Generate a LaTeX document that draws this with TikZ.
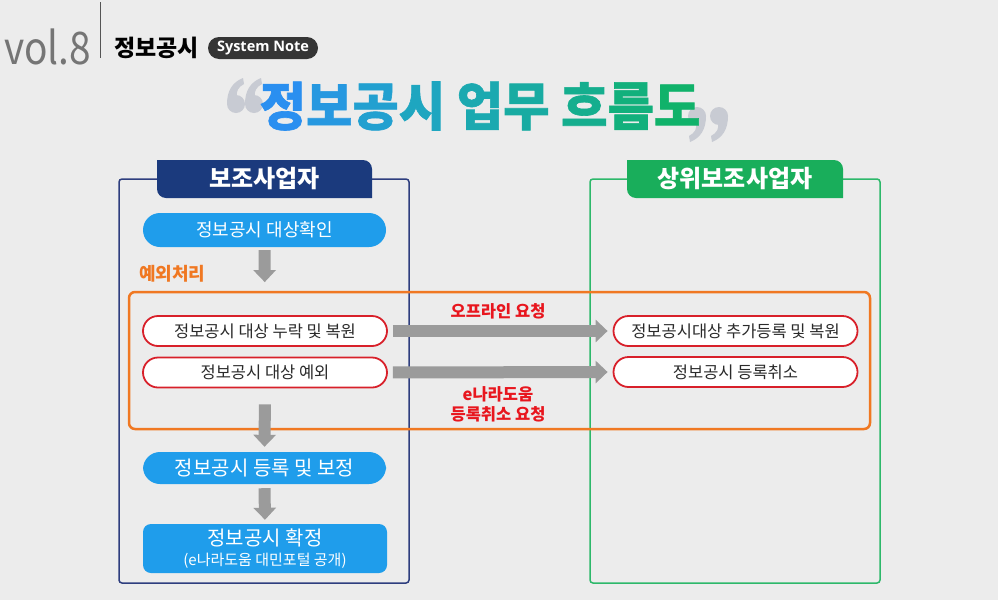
\documentclass[tikz,border=0pt]{standalone}
\usepackage{fontspec}
\setmainfont{Noto Sans CJK KR}
\newfontfamily\titlefont[FakeBold=1.2]{Noto Sans CJK KR}
\newfontfamily\osfont{Open Sans}
\usetikzlibrary{arrows.meta}
\definecolor{bgc}{HTML}{ECECEC}
\definecolor{navy}{HTML}{1B3A7D}
\definecolor{navyline}{HTML}{2E3E7E}
\definecolor{grn}{HTML}{19AE5B}
\definecolor{grnline}{HTML}{2DB86A}
\definecolor{pillblue}{HTML}{1F9DEB}
\definecolor{orng}{HTML}{F07822}
\definecolor{redline}{HTML}{D8202A}
\definecolor{redtxt}{HTML}{E8161E}
\definecolor{arrgray}{HTML}{9B9B9B}
\definecolor{qgray}{HTML}{C8CBD3}
\definecolor{txtdark}{HTML}{2A2A2A}
\tikzset{
  bluepill/.style={fill=pillblue, rounded corners=17pt, text=white, minimum width=243pt, inner sep=0pt},
  redpill/.style={fill=white, draw=redline, line width=1.8pt, rounded corners=15pt, minimum width=244pt, minimum height=30pt, inner sep=0pt, text=txtdark, font=\fontsize{16.5}{19}\selectfont},
  grayarrow/.style={draw=arrgray, line width=12pt, -{Triangle[length=12pt,width=22pt]}},
  tabtext/.style={text=white, font=\bfseries\fontsize{24}{27}\selectfont, inner sep=0pt},
  redlabel/.style={text=redtxt, font=\bfseries\fontsize{16.5}{19}\selectfont, inner sep=0pt},
  sixq/.pic={\fill[qgray] (0,0) circle (9pt);
    \fill[qgray] (-9,0) .. controls (-9,-14) and (-3,-22) .. (7,-26) -- (8,-20) .. controls (2,-17) and (0,-12) .. (1,-8) -- cycle;}
}
\begin{document}
\begin{tikzpicture}[x=1pt,y=-1pt]
\fill[bgc] (0,0) rectangle (998,600);
\useasboundingbox (0,0) rectangle (998,600);
% header
\node[anchor=base west, inner sep=0pt, text=txtdark!65, font=\fontsize{40}{40}\selectfont] (vol) at (4,64) {\scalebox{0.97}[1.12]{vol.8}};
\draw[txtdark!80, line width=1pt] (100,2) -- (100,58);
\node[anchor=west, inner sep=0pt, text=black, font=\bfseries\fontsize{23}{25}\selectfont] (hd) at (114,48) {정보공시};
\node[fill=txtdark!95, rounded corners=11pt, minimum width=110pt, minimum height=22pt, inner sep=0pt, text=white, font=\osfont\bfseries\fontsize{14.5}{16}\selectfont] (sn) at (263,48) {System Note};
% title quotes
\pic at (236,104) {sixq};
\pic at (254,104) {sixq};
\pic[rotate=180] at (697,116) {sixq};
\pic[rotate=180] at (719,116) {sixq};
% title
\node[inner sep=0pt, font=\titlefont\bfseries\fontsize{52}{56}\selectfont] (title) at (480,106) {\scalebox{0.97}[1]{{\color[HTML]{2A8FF0}정}{\color[HTML]{2698E0}보}{\color[HTML]{22A0D0}공}{\color[HTML]{1EA6C0}시} {\color[HTML]{1BA9B0}업}{\color[HTML]{18ABA2}무} {\color[HTML]{15AE8E}흐}{\color[HTML]{12B07C}름}{\color[HTML]{10B26A}도}}};
% panels
\draw[navyline, line width=1.5pt, rounded corners=3pt] (119,179) rectangle (409,583);
\draw[grnline, line width=1.5pt, rounded corners=3pt] (590,179) rectangle (880,583);
\fill[navy] (157,160) -- (363,160) arc[start angle=90, end angle=0, radius=9pt] -- (372,198) -- (166,198) arc[start angle=270, end angle=180, radius=9pt] -- cycle;
\fill[grn] (627,160) -- (834,160) arc[start angle=90, end angle=0, radius=9pt] -- (843,198) -- (636,198) arc[start angle=270, end angle=180, radius=9pt] -- cycle;
\node[tabtext] (tabl) at (264.5,179) {보조사업자};
\node[tabtext] (tabr) at (735,179) {상위보조사업자};
% left flow
\node[bluepill, minimum height=34pt, font=\fontsize{18}{21}\selectfont] (n1) at (264.5,230) {정보공시 대상확인};
\node[anchor=west, inner sep=0pt, text=orng, font=\bfseries\fontsize{18}{20}\selectfont] (exc) at (139,274) {예외처리};
\draw[orng, line width=2.5pt, rounded corners=6pt] (129,292) rectangle (870,429);
\node[redpill] (r1) at (265,331) {정보공시 대상 누락 및 복원};
\node[redpill] (r2) at (265,372.5) {정보공시 대상 예외};
\node[redpill] (s1) at (735.5,331) {정보공시대상 추가등록 및 복원};
\node[redpill] (s2) at (735.5,372) {정보공시 등록취소};
\node[redlabel] (lb1) at (498,311) {오프라인 요청};
\node[redlabel] (lb2) at (498,394) {e나라도움};
\node[redlabel] (lb3) at (498,414) {등록취소 요청};
\node[bluepill, minimum height=32pt, font=\fontsize{20}{23}\selectfont] (n4) at (264.5,468) {정보공시 등록 및 보정};
\node[fill=pillblue, rounded corners=8pt, minimum width=244pt, minimum height=49pt, inner sep=0pt, text=white, align=center] (n5) at (265,548.5) {\fontsize{20}{22}\selectfont 정보공시 확정\\[5pt]\fontsize{15}{20}\selectfont (e나라도움 대민포털 공개)};
% arrows
\draw[grayarrow, shorten <=3pt, shorten >=33pt] (n1.south) -- (r1.north);
\draw[grayarrow, shorten <=5pt, shorten >=5pt] (r1.east) -- (s1.west);
\draw[grayarrow, shorten <=5pt, shorten >=5pt] (r2.east) -- (s2.west);
\draw[grayarrow, shorten <=16pt, shorten >=5pt] (r2.south) -- (n4.north);
\draw[grayarrow, shorten <=4pt, shorten >=4pt] (n4.south) -- (n5.north);
\end{tikzpicture}
\end{document}
